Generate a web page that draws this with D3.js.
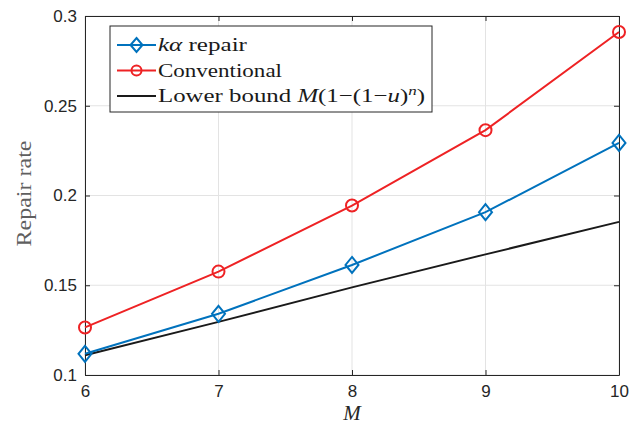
<!DOCTYPE html>
<html>
<head>
    <style>
        body { margin: 0; background: #ffffff; }
        .tick text { font-family: "Liberation Sans", Arial, sans-serif; font-size: 17px; fill: #262626; }
        .serif { font-family: "Liberation Serif", "DejaVu Serif", serif; }
    </style>
    <script src="https://d3js.org/d3.v7.min.js"></script>
</head>
<body>
    <div id="chart"></div>
    <script>
        var mValues = [6, 7, 8, 9, 10];
        var kaRepair = [0.1118, 0.1341, 0.1613, 0.1907, 0.2293];
        var conventional = [0.1265, 0.1576, 0.1944, 0.2364, 0.2911];
        var lowerBound = [0.1110, 0.1296, 0.1488, 0.1672, 0.1853];
        var xTicks = [6, 7, 8, 9, 10];
        var yTicks = [0.1, 0.15, 0.2, 0.25, 0.3];

        var W = 638, H = 427;
        var margin = { top: 16, right: 19, bottom: 52, left: 85 };
        var width = W - margin.left - margin.right;
        var height = H - margin.top - margin.bottom;
        var axisColor = '#262626';

        var svg = d3.select('#chart')
            .append('svg')
            .attr('width', W)
            .attr('height', H)
            .append('g')
            .attr('transform', 'translate(' + margin.left + ',' + margin.top + ')');

        var x = d3.scaleLinear().domain([6, 10]).range([0, width]);
        var y = d3.scaleLinear().domain([0.1, 0.3]).range([height, 0]);

        // grid
        svg.append('g').selectAll('line').data(xTicks).enter().append('line')
            .attr('x1', d => x(d)).attr('x2', d => x(d))
            .attr('y1', 0).attr('y2', height)
            .attr('stroke', '#e3e3e3').attr('stroke-width', 1);
        svg.append('g').selectAll('line').data(yTicks).enter().append('line')
            .attr('x1', 0).attr('x2', width)
            .attr('y1', d => y(d)).attr('y2', d => y(d))
            .attr('stroke', '#e3e3e3').attr('stroke-width', 1);

        // axes (box with inward ticks on all sides)
        var xAxis = svg.append('g')
            .attr('transform', 'translate(0,' + height + ')')
            .call(d3.axisBottom(x).tickValues(xTicks).tickFormat(d3.format('d')).tickSizeInner(-5).tickSizeOuter(0).tickPadding(10));
        var yAxis = svg.append('g')
            .call(d3.axisLeft(y).tickValues(yTicks).tickFormat(d => String(d)).tickSizeInner(-5).tickSizeOuter(0).tickPadding(8));
        var xTop = svg.append('g')
            .call(d3.axisTop(x).tickValues(xTicks).tickFormat('').tickSizeInner(-5).tickSizeOuter(0));
        var yRight = svg.append('g')
            .attr('transform', 'translate(' + width + ',0)')
            .call(d3.axisRight(y).tickValues(yTicks).tickFormat('').tickSizeInner(-5).tickSizeOuter(0));
        [xAxis, yAxis, xTop, yRight].forEach(function(a) {
            a.selectAll('path, line').attr('stroke', axisColor).attr('stroke-width', 1);
        });

        var line = d3.line().x((d, i) => x(mValues[i])).y(d => y(d));

        svg.append('path').datum(lowerBound)
            .attr('d', line).attr('fill', 'none')
            .attr('stroke', '#1a1a1a').attr('stroke-width', 2);

        svg.append('path').datum(kaRepair)
            .attr('d', line).attr('fill', 'none')
            .attr('stroke', '#0072bd').attr('stroke-width', 2);
        svg.selectAll('.dia').data(kaRepair).enter().append('path')
            .attr('class', 'dia')
            .attr('d', 'M0,-8L6.5,0L0,8L-6.5,0Z')
            .attr('transform', (d, i) => 'translate(' + x(mValues[i]) + ',' + y(d) + ')')
            .attr('fill', 'none').attr('stroke', '#0072bd').attr('stroke-width', 2);

        svg.append('path').datum(conventional)
            .attr('d', line).attr('fill', 'none')
            .attr('stroke', '#ee2224').attr('stroke-width', 2);
        svg.selectAll('.circ').data(conventional).enter().append('circle')
            .attr('class', 'circ')
            .attr('cx', (d, i) => x(mValues[i])).attr('cy', d => y(d))
            .attr('r', 6)
            .attr('fill', 'none').attr('stroke', '#ee2224').attr('stroke-width', 2);

        // axis labels
        svg.append('text')
            .attr('class', 'serif')
            .attr('x', width / 2).attr('y', height + 45)
            .attr('text-anchor', 'middle')
            .style('font-size', '21px').style('font-style', 'italic').style('fill', '#262626')
            .text('M');
        svg.append('text')
            .attr('class', 'serif')
            .attr('transform', 'rotate(-90)')
            .attr('x', -height / 2 + 2).attr('y', -54)
            .attr('text-anchor', 'middle')
            .attr('textLength', 106).attr('lengthAdjust', 'spacingAndGlyphs')
            .style('font-size', '20px').style('fill', '#5f5f5f')
            .text('Repair rate');

        // legend
        var lg = svg.append('g').attr('transform', 'translate(' + (110 - margin.left) + ',' + (26 - margin.top) + ')');
        lg.append('rect').attr('width', 322).attr('height', 86)
            .attr('fill', '#ffffff').attr('stroke', axisColor).attr('stroke-width', 1);
        var items = [
            { color: '#0072bd', marker: 'dia' },
            { color: '#ee2224', marker: 'circ' },
            { color: '#1a1a1a', marker: null }
        ];
        items.forEach(function(it, i) {
            var cy = 19 + i * 25.5;
            lg.append('line').attr('x1', 7).attr('x2', 46).attr('y1', cy).attr('y2', cy)
                .attr('stroke', it.color).attr('stroke-width', 2);
            if (it.marker === 'dia') {
                lg.append('path').attr('d', 'M0,-7L6,0L0,7L-6,0Z')
                    .attr('transform', 'translate(26.5,' + cy + ')')
                    .attr('fill', 'none').attr('stroke', it.color).attr('stroke-width', 2);
            } else if (it.marker === 'circ') {
                lg.append('circle').attr('cx', 26.5).attr('cy', cy).attr('r', 5)
                    .attr('fill', 'none').attr('stroke', it.color).attr('stroke-width', 2);
            }
        });
        var textLens = [89, 124, 267];
        function ltext(i) {
            return lg.append('text').attr('class', 'serif')
                .attr('x', 48).attr('y', 19 + i * 25.5 + 6)
                .attr('textLength', textLens[i]).attr('lengthAdjust', 'spacingAndGlyphs')
                .style('font-size', '19px').style('fill', '#1a1a1a');
        }
        var t0 = ltext(0);
        t0.append('tspan').style('font-style', 'italic').text('kα');
        t0.append('tspan').text(' repair');
        ltext(1).text('Conventional');
        var t2 = ltext(2);
        t2.append('tspan').text('Lower bound ');
        t2.append('tspan').style('font-style', 'italic').text('M');
        t2.append('tspan').text('(1−(1−');
        t2.append('tspan').style('font-style', 'italic').text('u');
        t2.append('tspan').text(')');
        t2.append('tspan').style('font-style', 'italic').style('font-size', '13px').attr('dy', -7).text('n');
        t2.append('tspan').attr('dy', 7).text(')');
    </script>
</body>
</html>
